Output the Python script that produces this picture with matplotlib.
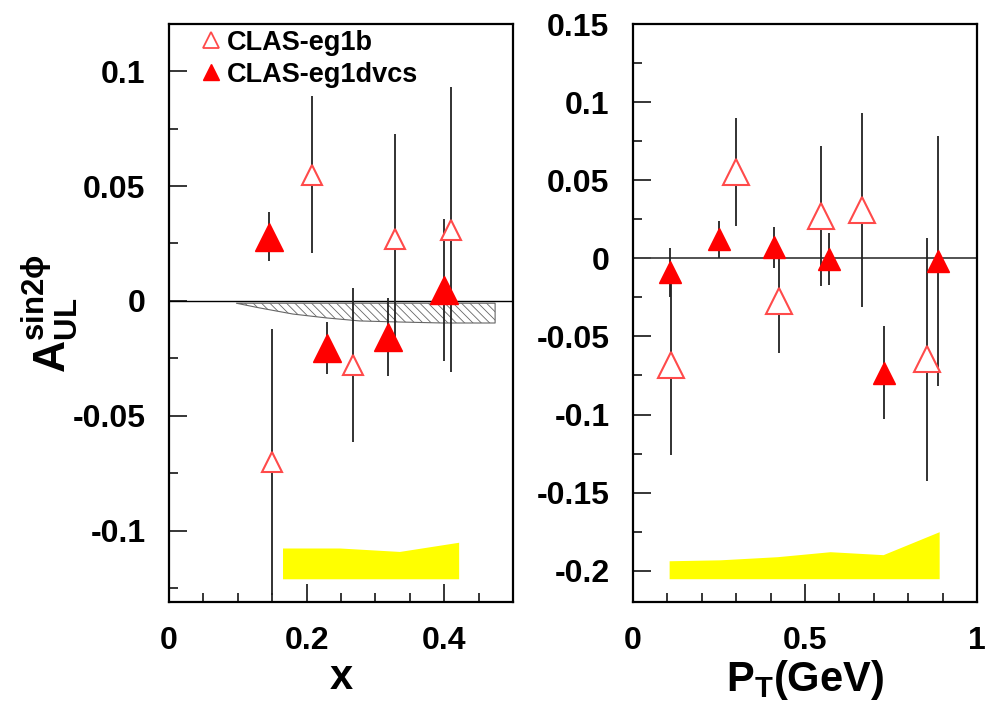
import matplotlib
matplotlib.use('Agg')
import matplotlib.pyplot as plt
from matplotlib.lines import Line2D

plt.rcParams['font.family'] = ['Liberation Sans', 'DejaVu Sans']
plt.rcParams['font.weight'] = 'bold'
plt.rcParams['axes.labelweight'] = 'bold'
plt.rcParams['mathtext.fontset'] = 'custom'
plt.rcParams['mathtext.rm'] = 'Liberation Sans:bold'
plt.rcParams['mathtext.it'] = 'Liberation Sans:bold'
plt.rcParams['mathtext.bf'] = 'Liberation Sans:bold'
plt.rcParams['axes.unicode_minus'] = False
plt.rcParams['hatch.linewidth'] = 0.6

# ---- left panel: vs x ----
x_eg1b = [0.149, 0.208, 0.268, 0.329, 0.410]
a_eg1b = [-0.070, 0.055, -0.028, 0.027, 0.031]
e_eg1b = [0.058, 0.034, 0.0335, 0.0456, 0.062]

x_dvcs = [0.146, 0.230, 0.318, 0.400]
a_dvcs = [0.028, -0.0204, -0.0157, 0.0048]
e_dvcs = [0.0105, 0.0113, 0.017, 0.031]

# hatched theory band
x_band = [0.098, 0.131, 0.180, 0.229, 0.277, 0.325, 0.398, 0.474]
band_top = [-0.001, -0.001, -0.001, -0.001, -0.001, -0.001, -0.001, -0.001]
band_bot = [-0.001, -0.003, -0.0057, -0.0074, -0.0087, -0.0091, -0.0096, -0.0096]

# systematic band (yellow)
x_sys = [0.165, 0.248, 0.335, 0.421]
sys_top = [-0.1075, -0.1075, -0.1090, -0.1050]
sys_bot = -0.1209

# ---- right panel: vs PT ----
pt_eg1b = [0.110, 0.300, 0.424, 0.547, 0.666, 0.855]
b_eg1b = [-0.0686, 0.0551, -0.0276, 0.0269, 0.0308, -0.0647]
be_eg1b = [0.057, 0.0346, 0.033, 0.0448, 0.062, 0.078]

pt_dvcs = [0.108, 0.250, 0.410, 0.570, 0.730, 0.887]
b_dvcs = [-0.009, 0.0122, 0.0071, -0.0006, -0.0731, -0.0019]
be_dvcs = [0.0157, 0.012, 0.013, 0.0167, 0.030, 0.080]

pt_sys = [0.105, 0.253, 0.419, 0.573, 0.727, 0.890]
psys_top = [-0.1936, -0.1930, -0.1910, -0.1878, -0.1897, -0.1750]
psys_bot = -0.2051

xticks_l = [0, 0.2, 0.4]
xticklabels_l = ['0', '0.2', '0.4']
yticks_l = [-0.1, -0.05, 0, 0.05, 0.1]
yticklabels_l = ['-0.1', '-0.05', '0', '0.05', '0.1']
xticks_r = [0, 0.5, 1]
xticklabels_r = ['0', '0.5', '1']
yticks_r = [-0.2, -0.15, -0.1, -0.05, 0, 0.05, 0.1, 0.15]
yticklabels_r = ['-0.2', '-0.15', '-0.1', '-0.05', '0', '0.05', '0.1', '0.15']

open_col = '#ff4a4a'
fill_col = '#ff0000'
bar_col = '#222222'

fig = plt.figure(figsize=(9.92, 7.03), dpi=100)
ax1 = fig.add_axes([169/992, 1-602/703, 344/992, 578/703])
ax2 = fig.add_axes([633/992, 1-602/703, 344/992, 578/703])


def style_axis(ax, xlim, ylim, xmin_step, ymin_step):
    ax.set_xlim(*xlim)
    ax.set_ylim(*ylim)
    for s in ax.spines.values():
        s.set_linewidth(1.6)
    ax.xaxis.set_minor_locator(matplotlib.ticker.MultipleLocator(xmin_step))
    ax.yaxis.set_minor_locator(matplotlib.ticker.MultipleLocator(ymin_step))
    ax.tick_params(which='both', direction='in', top=False, right=False, width=1.1)
    ax.tick_params(which='major', length=13, labelsize=23, pad=17)
    ax.tick_params(which='minor', length=6.5)


# left
ax1.fill_between(x_sys, sys_top, sys_bot, color='#ffff00', lw=0, zorder=1)
ax1.fill_between(x_band, band_top, band_bot, facecolor='white', edgecolor='#666666',
                 hatch='\\\\\\\\', lw=0.8, zorder=2)
ax1.axhline(0, color='k', lw=1.0, zorder=2)
ax1.errorbar(x_eg1b, a_eg1b, yerr=e_eg1b, fmt='none', ecolor=bar_col, elinewidth=1.3, zorder=3)
ax1.errorbar(x_dvcs, a_dvcs, yerr=e_dvcs, fmt='none', ecolor=bar_col, elinewidth=1.3, zorder=3)
ax1.plot(x_eg1b, a_eg1b, '^', ms=15, mfc='white', mec=open_col, mew=1.5, ls='none', zorder=4)
ax1.plot(x_dvcs, a_dvcs, '^', ms=20, mfc=fill_col, mec=fill_col, ls='none', zorder=4)
style_axis(ax1, (0, 0.5), (-0.131, 0.1205), 0.05, 0.025)
ax1.set_xticks(xticks_l)
ax1.set_xticklabels(xticklabels_l)
ax1.set_yticks(yticks_l)
ax1.set_yticklabels(yticklabels_l)
ax1.set_xlabel('x', fontsize=30, labelpad=2)
ax1.set_ylabel(r'$\mathrm{A}^{\mathrm{sin2\phi}}_{\mathrm{UL}}$', fontsize=32)
ax1.yaxis.set_label_coords(-0.255, 0.5)

handles = [Line2D([], [], marker='^', ls='none', ms=12, mfc='white', mec=open_col, mew=1.3),
           Line2D([], [], marker='^', ls='none', ms=12, mfc=fill_col, mec=fill_col)]
ax1.legend(handles, ['CLAS-eg1b', 'CLAS-eg1dvcs'], loc='upper left',
           bbox_to_anchor=(0.09, 0.99), frameon=False, fontsize=19.5, borderpad=0,
           borderaxespad=0, handlelength=0.8, handletextpad=0.2, labelspacing=0.22)

# right
ax2.fill_between(pt_sys, psys_top, psys_bot, color='#ffff00', lw=0, zorder=1)
ax2.axhline(0, color='#444444', lw=1.3, zorder=2)
ax2.errorbar(pt_eg1b, b_eg1b, yerr=be_eg1b, fmt='none', ecolor=bar_col, elinewidth=1.3, zorder=3)
ax2.errorbar(pt_dvcs, b_dvcs, yerr=be_dvcs, fmt='none', ecolor=bar_col, elinewidth=1.3, zorder=3)
ax2.plot(pt_eg1b, b_eg1b, '^', ms=19, mfc='white', mec=open_col, mew=1.5, ls='none', zorder=4)
ax2.plot(pt_dvcs, b_dvcs, '^', ms=16.5, mfc=fill_col, mec=fill_col, ls='none', zorder=4)
style_axis(ax2, (0, 1), (-0.22, 0.15), 0.1, 0.025)
ax2.set_xticks(xticks_r)
ax2.set_xticklabels(xticklabels_r)
ax2.set_yticks(yticks_r)
ax2.set_yticklabels(yticklabels_r)
ax2.set_xlabel(r'P$_\mathrm{T}$(GeV)', fontsize=30, labelpad=2)

fig.savefig('out.png', dpi=100)
